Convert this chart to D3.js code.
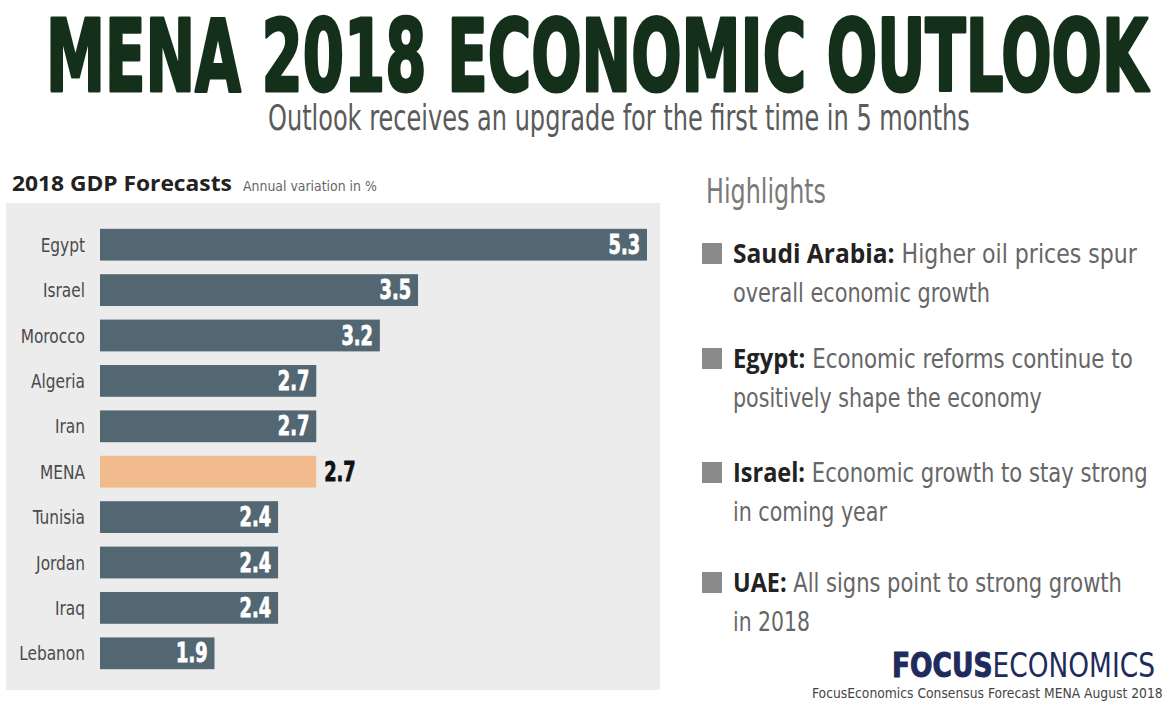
<!DOCTYPE html>
<html>
<head>
<meta charset="utf-8">
<script src="https://cdn.jsdelivr.net/npm/d3@7"></script>
<style>
  html, body { margin: 0; padding: 0; background: #ffffff; }
  svg { display: block; }
</style>
</head>
<body>
<svg id="chart" width="1171" height="706"></svg>
<script>
// 2018 GDP forecasts, annual variation in %
const countries = ["Egypt", "Israel", "Morocco", "Algeria", "Iran", "MENA", "Tunisia", "Jordan", "Iraq", "Lebanon"];
const gdp2018   = [5.3, 3.5, 3.2, 2.7, 2.7, 2.7, 2.4, 2.4, 2.4, 1.9];
const regionName = "MENA";

// Highlights panel
const highlightHeads = ["Saudi Arabia:", "Egypt:", "Israel:", "UAE:"];
const highlightLine1 = ["Higher oil prices spur", "Economic reforms continue to", "Economic growth to stay strong", "All signs point to strong growth"];
const highlightLine2 = ["overall economic growth", "positively shape the economy", "in coming year", "in 2018"];

const NARROW = "'Liberation Sans Narrow', 'DejaVu Sans Condensed', 'Liberation Sans', sans-serif";
const svg = d3.select("#chart");

// Squeeze or stretch a text horizontally so it spans `width` pixels from its anchor.
function fitText(sel, x, y, width, anchor) {
  sel.attr("x", 0).attr("y", 0).attr("text-anchor", anchor || "start");
  const w = sel.node().getComputedTextLength();
  const s = width / w;
  sel.attr("transform", `translate(${x},${y}) scale(${s},1)`);
  return sel;
}

// Title block
fitText(svg.append("text")
  .attr("font-family", NARROW).attr("font-weight", 700).attr("font-size", 100)
  .attr("fill", "#15301a")
  .attr("stroke", "#15301a").attr("stroke-width", 3).attr("stroke-linejoin", "round")
  .text("MENA 2018 ECONOMIC OUTLOOK"), 46, 91, 1102);

fitText(svg.append("text")
  .attr("font-family", NARROW).attr("font-size", 35)
  .attr("fill", "#5a5a5a")
  .text("Outlook receives an upgrade for the first time in 5 months"), 268, 130, 702);

// Chart header
fitText(svg.append("text")
  .attr("font-family", "'Open Sans', 'Liberation Sans', sans-serif").attr("font-weight", 700).attr("font-size", 21)
  .attr("fill", "#222")
  .text("2018 GDP Forecasts"), 12, 191, 220);

fitText(svg.append("text")
  .attr("font-family", NARROW).attr("font-size", 14)
  .attr("fill", "#666")
  .text("Annual variation in %"), 243, 191, 134);

// Chart panel
svg.append("rect")
  .attr("x", 6).attr("y", 203).attr("width", 654).attr("height", 487)
  .attr("fill", "#ececec");

const x = d3.scaleLinear().domain([1, 5.3]).range([100, 647]);
const y = d3.scaleBand().domain(countries).range([222, 676]).paddingInner(0.3).paddingOuter(0.15);

const rows = countries.map((c, i) => ({ country: c, value: gdp2018[i] }));

const g = svg.append("g");

g.selectAll("rect.bar")
  .data(rows)
  .join("rect")
  .attr("class", "bar")
  .attr("x", x(1))
  .attr("y", d => y(d.country))
  .attr("width", d => x(d.value) - x(1))
  .attr("height", y.bandwidth())
  .attr("fill", d => d.country === regionName ? "#f2bb8e" : "#536773");

// Category labels
g.selectAll("text.cat")
  .data(rows)
  .join("text")
  .attr("class", "cat")
  .attr("font-family", NARROW)
  .attr("font-size", 19)
  .attr("fill", "#4a4a4a")
  .attr("text-anchor", "end")
  .attr("transform", d => `translate(85,${y(d.country) + y.bandwidth() / 2 + 7}) scale(0.9,1)`)
  .text(d => d.country);

// Value labels
g.selectAll("text.val")
  .data(rows)
  .join("text")
  .attr("class", "val")
  .attr("font-family", NARROW)
  .attr("font-weight", 700)
  .attr("font-size", 26)
  .attr("fill", d => d.country === regionName ? "#111" : "#ffffff")
  .attr("stroke", d => d.country === regionName ? "#111" : "#ffffff")
  .attr("stroke-width", 0.8)
  .attr("text-anchor", d => d.country === regionName ? "start" : "end")
  .attr("transform", d => {
    const cy = y(d.country) + y.bandwidth() / 2 + 9;
    const px = d.country === regionName ? x(d.value) + 8 : x(d.value) - 7;
    return `translate(${px},${cy}) scale(0.76,1)`;
  })
  .text(d => d.value.toFixed(1));

// Highlights
fitText(svg.append("text")
  .attr("font-family", NARROW).attr("font-size", 34)
  .attr("fill", "#7a7a7a")
  .text("Highlights"), 706, 203, 120);

const hlTop = [263, 368, 482, 592];
const hlWidth1 = [404, 400, 415, 389];
const hlWidth2 = [257, 309, 154, 77];

highlightHeads.forEach((head, i) => {
  svg.append("rect")
    .attr("x", 702).attr("y", hlTop[i] - 20)
    .attr("width", 20).attr("height", 21)
    .attr("fill", "#8a8a8a");

  const t = svg.append("text")
    .attr("font-family", NARROW).attr("font-size", 27).attr("fill", "#666");
  t.append("tspan").attr("font-family", "'Open Sans', 'Liberation Sans', sans-serif")
    .attr("font-weight", 700).attr("fill", "#222").text(head);
  t.append("tspan").text(" " + highlightLine1[i]);
  fitText(t, 733, hlTop[i], hlWidth1[i]);

  fitText(svg.append("text")
    .attr("font-family", NARROW).attr("font-size", 27).attr("fill", "#666")
    .text(highlightLine2[i]), 733, hlTop[i] + 39, hlWidth2[i]);
});

// Brand and source
const brand = svg.append("text")
  .attr("font-family", NARROW).attr("font-size", 33).attr("fill", "#1f2b5c");
brand.append("tspan").attr("font-weight", 700).attr("stroke", "#1f2b5c").attr("stroke-width", 1).text("FOCUS");
brand.append("tspan").text("ECONOMICS");
fitText(brand, 892, 677, 263);

fitText(svg.append("text")
  .attr("font-family", NARROW).attr("font-size", 14).attr("fill", "#444")
  .text("FocusEconomics Consensus Forecast MENA August 2018"), 812, 698, 351);
</script>
</body>
</html>
